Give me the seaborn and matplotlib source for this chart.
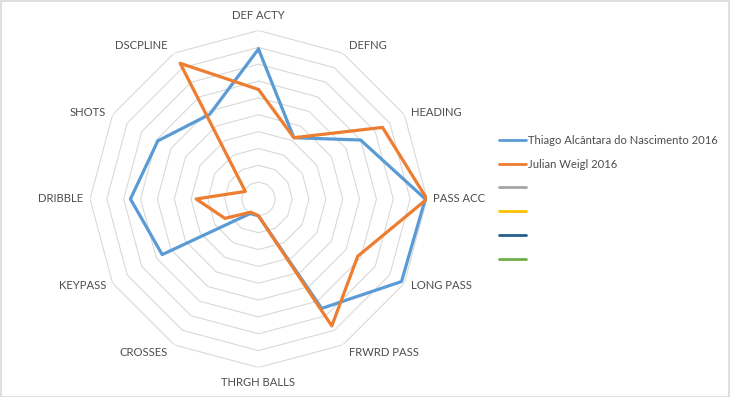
import numpy as np
import pandas as pd
import seaborn as sns
import matplotlib.pyplot as plt
from matplotlib.lines import Line2D
from matplotlib.patches import Rectangle

#------------------------------------------------------------------------------#
# Radar chart: Thiago vs Weigl, 2016 (scale 0-10)
#------------------------------------------------------------------------------#

categories = ['DEF ACTY', 'DEFNG', 'HEADING', 'PASS ACC', 'LONG PASS',
              'FRWRD PASS', 'THRGH BALLS', 'CROSSES', 'KEYPASS', 'DRIBBLE',
              'SHOTS', 'DSCPLINE']
thiago = [8.9, 4.2, 7.0, 9.9, 9.8, 7.5, 1.0, 1.0, 6.6, 7.6, 6.9, 5.8]
weigl  = [6.5, 4.2, 8.5, 10.0, 6.8, 8.7, 1.0, 0.9, 2.3, 3.7, 0.9, 9.3]
series_names = ['Thiago Alcântara do Nascimento 2016', 'Julian Weigl 2016']
empty_names  = [' ', ' ', ' ', ' ']

colors = ['#5B9BD5', '#ED7D31', '#A5A5A5', '#FFC000', '#255E91', '#70AD47']
txt_col = '#4D4D4D'
grid_col = '#D9D9D9'

#------------------------------------------------------------------------------#
def main():
    sns.set_theme(style='white')
    plt.rcParams['font.family'] = ['Lato', 'DejaVu Sans']

    n = len(categories)
    theta = np.linspace(0, 2*np.pi, n, endpoint=False)

    # long-form frame, close each loop by repeating the first point
    rows = []
    for name, vals in zip(series_names, [thiago, weigl]):
        for t, v in zip(list(theta) + [2*np.pi], vals + vals[:1]):
            rows.append({'theta': t, 'value': v, 'player': name})
    df = pd.DataFrame(rows)

    fig = plt.figure(figsize=(7.3, 3.97), dpi=100)
    ax = fig.add_axes([0.1233, 0.0743, 0.4616, 0.8489], projection='polar')
    ax.set_theta_offset(np.pi/2)
    ax.set_theta_direction(-1)

    # polygon rings
    ring_t = list(theta) + [2*np.pi]
    for k in range(1, 11):
        ax.plot(ring_t, [k]*len(ring_t), color=grid_col, lw=0.8, zorder=1)

    sns.lineplot(data=df, x='theta', y='value', hue='player', sort=False,
                 palette=colors[:2], lw=2.3, ax=ax, legend=False, zorder=3)

    ax.set_ylim(0, 10)
    ax.grid(False)
    ax.spines['polar'].set_visible(False)
    ax.set_xticks([])
    ax.set_yticks([])
    ax.set_xlabel('')
    ax.set_ylabel('')

    # category labels around the web
    for t, lab in zip(theta, categories):
        s, c = np.sin(t), np.cos(t)
        if abs(s) < 0.01:
            ha, dx, dy = 'center', 0, 15.5*np.sign(c)
        else:
            ha = 'left' if s > 0 else 'right'
            dx = 6.5*np.sign(s)
            dy = 10*c*abs(c)
        ax.annotate(lab, xy=(t, 10), xytext=(dx, dy), textcoords='offset pixels',
                    ha=ha, va='center', fontsize=8.1, color=txt_col,
                    annotation_clip=False)

    handles = [Line2D([], [], color=c, lw=2) for c in colors]
    labels = series_names + empty_names
    leg = fig.legend(handles, labels, loc='upper left',
                     bbox_to_anchor=(499/730, 1 - 135/397), frameon=False,
                     fontsize=8.1, borderpad=0, borderaxespad=0,
                     handlelength=2.4, handletextpad=0.15, labelspacing=1.13)
    for t in leg.get_texts():
        t.set_color(txt_col)

    fig.patches.append(Rectangle((0.001, 0.001), 0.997, 0.996,
                                 transform=fig.transFigure, fill=False,
                                 edgecolor=grid_col, lw=1.2))

    fig.savefig('out.png', dpi=100, facecolor='white')

if __name__ == '__main__':
    main()
